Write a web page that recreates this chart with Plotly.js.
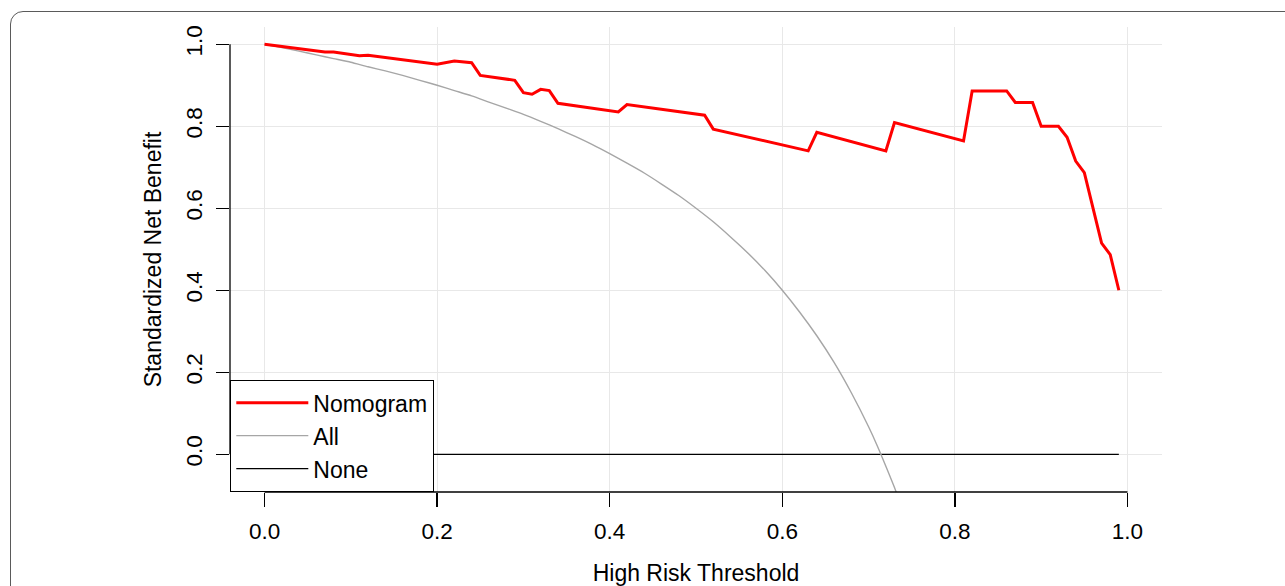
<!DOCTYPE html>
<html>
<head>
<meta charset="utf-8">
<script src="https://cdn.plot.ly/plotly-3.0.1.min.js"></script>
<style>
  html, body { margin: 0; padding: 0; background: #ffffff; width: 1285px; height: 586px; overflow: hidden; }
  #frame { position: absolute; left: 10px; top: 11px; width: 1400px; height: 700px;
           border: 1.5px solid #5a5a5a; border-radius: 13px; box-sizing: border-box; }
  #chart { position: absolute; left: 0; top: 0; width: 1285px; height: 586px; }
</style>
</head>
<body>
<div id="frame"></div>
<div id="chart"></div>
<script>
// Nomogram decision curve
var nomoX = [0, 0.07, 0.08, 0.11, 0.12, 0.20, 0.22, 0.24, 0.25, 0.29, 0.30, 0.31, 0.32, 0.33, 0.34,
             0.41, 0.42, 0.51, 0.52, 0.63, 0.64, 0.72, 0.73, 0.81, 0.82, 0.86, 0.87, 0.89, 0.90,
             0.92, 0.93, 0.94, 0.95, 0.97, 0.98, 0.99];
var nomoY = [1.000, 0.981, 0.981, 0.972, 0.973, 0.951, 0.959, 0.955, 0.924, 0.912, 0.882, 0.878, 0.890, 0.887, 0.856,
             0.835, 0.853, 0.827, 0.793, 0.740, 0.785, 0.740, 0.809, 0.764, 0.886, 0.886, 0.858, 0.858, 0.800,
             0.800, 0.773, 0.715, 0.687, 0.515, 0.487, 0.400];

// "All" (treat everyone) curve
var allX = [0, 0.02, 0.04, 0.06, 0.08, 0.10, 0.12, 0.14, 0.16, 0.18, 0.20, 0.22, 0.24, 0.26, 0.28,
            0.30, 0.32, 0.34, 0.36, 0.38, 0.40, 0.42, 0.44, 0.46, 0.48, 0.50, 0.52, 0.54, 0.56,
            0.58, 0.60, 0.62, 0.64, 0.66, 0.68, 0.70, 0.71, 0.72, 0.73, 0.74];
var allY = [1.000, 0.992, 0.983, 0.974, 0.965, 0.956, 0.945, 0.935, 0.924, 0.912, 0.900, 0.887, 0.874, 0.859, 0.844,
            0.829, 0.812, 0.794, 0.775, 0.755, 0.733, 0.710, 0.686, 0.659, 0.631, 0.600, 0.567, 0.530, 0.491,
            0.448, 0.400, 0.347, 0.289, 0.224, 0.150, 0.067, 0.021, -0.029, -0.081, -0.138];

// "None" (treat no one) line
var noneX = [0, 0.99];
var noneY = [0, 0];

var tickVals = [0, 0.2, 0.4, 0.6, 0.8, 1.0];
var tickText = ['0.0', '0.2', '0.4', '0.6', '0.8', '1.0'];

var FONT = 'Liberation Sans, Arial, Helvetica, sans-serif';

var traces = [
  { x: noneX, y: noneY, type: 'scatter', mode: 'lines', name: 'None', legendrank: 3,
    line: { color: '#000000', width: 1.3 }, hoverinfo: 'skip' },
  { x: allX, y: allY, type: 'scatter', mode: 'lines', name: 'All', legendrank: 2,
    line: { color: '#a6a6a6', width: 1.4, shape: 'spline', smoothing: 0.6 }, hoverinfo: 'skip' },
  { x: nomoX, y: nomoY, type: 'scatter', mode: 'lines', name: 'Nomogram', legendrank: 1,
    line: { color: '#ff0000', width: 3 }, hoverinfo: 'skip' }
];

var layout = {
  width: 1285, height: 586,
  margin: { l: 230, r: 123, t: 27, b: 94 },
  paper_bgcolor: 'rgba(0,0,0,0)',
  plot_bgcolor: 'rgba(0,0,0,0)',
  font: { family: FONT, color: '#000000', size: 22.5 },
  showlegend: true,
  legend: {
    x: 0, y: 0, xanchor: 'left', yanchor: 'bottom',
    bordercolor: '#000000', borderwidth: 1.3, bgcolor: '#ffffff',
    font: { family: FONT, size: 23, color: '#000000' },
    traceorder: 'normal', itemwidth: 72, tracegroupgap: 0
  },
  xaxis: {
    range: [-0.04, 1.04], tickmode: 'array', tickvals: tickVals, ticktext: tickText,
    ticks: 'outside', ticklen: 14, tickwidth: 1.3, tickcolor: '#000000', ticklabelstandoff: 5,
    showgrid: true, gridcolor: '#e8e8e8', gridwidth: 1.2, zeroline: false, showline: false,
    tickfont: { family: FONT, size: 22.5, color: '#000000' },
    title: { text: 'High Risk Threshold', font: { family: FONT, size: 23, color: '#000000' }, standoff: 22 },
    automargin: false, fixedrange: true
  },
  yaxis: {
    range: [-0.092, 1.042], tickmode: 'array', tickvals: tickVals, ticktext: tickText,
    ticks: 'outside', ticklen: 13, tickwidth: 1.3, tickcolor: '#000000', tickangle: -90, ticklabelstandoff: 5,
    showgrid: true, gridcolor: '#e8e8e8', gridwidth: 1.2, zeroline: false, showline: false,
    tickfont: { family: FONT, size: 22.5, color: '#000000' },
    title: { text: 'Standardized Net Benefit', font: { family: FONT, size: 23, color: '#000000' }, standoff: 13 },
    automargin: false, fixedrange: true
  },
  shapes: [
    { type: 'line', xref: 'x', yref: 'paper', x0: 0, x1: 1, y0: 0, y1: 0,
      line: { color: '#000000', width: 1.3 }, layer: 'above' },
    { type: 'line', xref: 'paper', yref: 'y', x0: 0, x1: 0, y0: 0, y1: 1,
      line: { color: '#000000', width: 1.3 }, layer: 'above' }
  ]
};

Plotly.newPlot('chart', traces, layout, { displayModeBar: false, staticPlot: true });
</script>
</body>
</html>
